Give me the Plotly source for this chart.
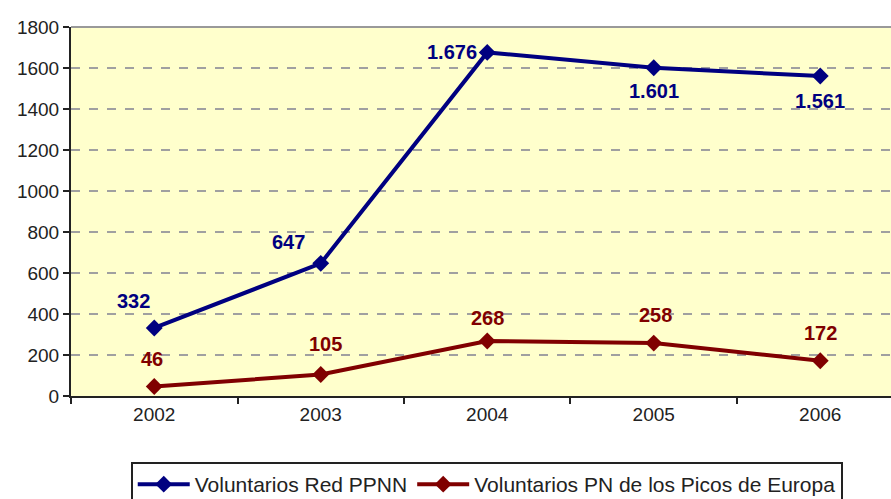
import plotly.graph_objects as go

years = ["2002", "2003", "2004", "2005", "2006"]
red_ppnn = [332, 647, 1676, 1601, 1561]
picos = [46, 105, 268, 258, 172]
y_ticks = [0, 200, 400, 600, 800, 1000, 1200, 1400, 1600, 1800]

# label offsets in pixels (dx right, dy up) relative to each marker
blue_offsets = [(-21, 27), (-32, 21), (-35, 0), (0, -23), (0, -25)]
red_offsets = [(-2, 28), (5, 30), (0, 23), (2, 28), (0, 28)]

def fmt(v):
    return f"{v:,}".replace(",", ".")

blue = "#000080"
red = "#800000"
font = "Liberation Sans, Arial, sans-serif"

fig = go.Figure()
fig.add_trace(go.Scatter(
    x=years, y=red_ppnn, name="Voluntarios Red PPNN", mode="lines+markers",
    line=dict(color=blue, width=4), marker=dict(symbol="diamond", size=13, color=blue),
    cliponaxis=False,
))
fig.add_trace(go.Scatter(
    x=years, y=picos, name="Voluntarios PN de los Picos de Europa", mode="lines+markers",
    line=dict(color=red, width=4), marker=dict(symbol="diamond", size=13, color=red),
    cliponaxis=False,
))

for vals, offs, col in [(red_ppnn, blue_offsets, blue), (picos, red_offsets, red)]:
    for i, (v, (dx, dy)) in enumerate(zip(vals, offs)):
        fig.add_annotation(x=i, y=v, xref="x", yref="y", text=fmt(v), showarrow=False,
                           xshift=dx, yshift=dy,
                           font=dict(family=font, size=20, color=col, weight="bold"))

fig.add_shape(type="line", xref="paper", yref="paper", x0=0, x1=1, y0=1, y1=1,
              line=dict(color="#999999", width=2))

fig.update_layout(
    width=891, height=499,
    margin=dict(l=71, r=0, t=27, b=103),
    paper_bgcolor="white", plot_bgcolor="#FFFFCC",
    font=dict(family=font, size=19, color="#222222"),
    showlegend=True,
    legend=dict(orientation="h", xref="paper", x=0.507, xanchor="center",
                yref="container", y=1 - 462 / 499, yanchor="top",
                bordercolor="#222222", borderwidth=2, bgcolor="white",
                font=dict(family=font, size=21, color="#222222"),
                itemwidth=52, tracegroupgap=0),
    xaxis=dict(type="category", range=[-0.5, 4.425], tickson="boundaries",
               ticks="outside", ticklen=6, tickwidth=2, tickcolor="#222222",
               showline=True, linecolor="#222222", linewidth=2, showgrid=False,
               tickfont=dict(size=19), zeroline=False),
    yaxis=dict(range=[0, 1800], tickvals=y_ticks, ticks="outside", ticklen=6, tickwidth=2,
               tickcolor="#222222", showline=True, linecolor="#222222", linewidth=2,
               showgrid=True, gridcolor="#A0A0A0", gridwidth=2, griddash="dash",
               zeroline=False, tickfont=dict(size=19)),
)

fig.write_html("out.html", config={"displayModeBar": False},
               post_script="document.body.style.margin='0';document.body.style.overflow='hidden';")
